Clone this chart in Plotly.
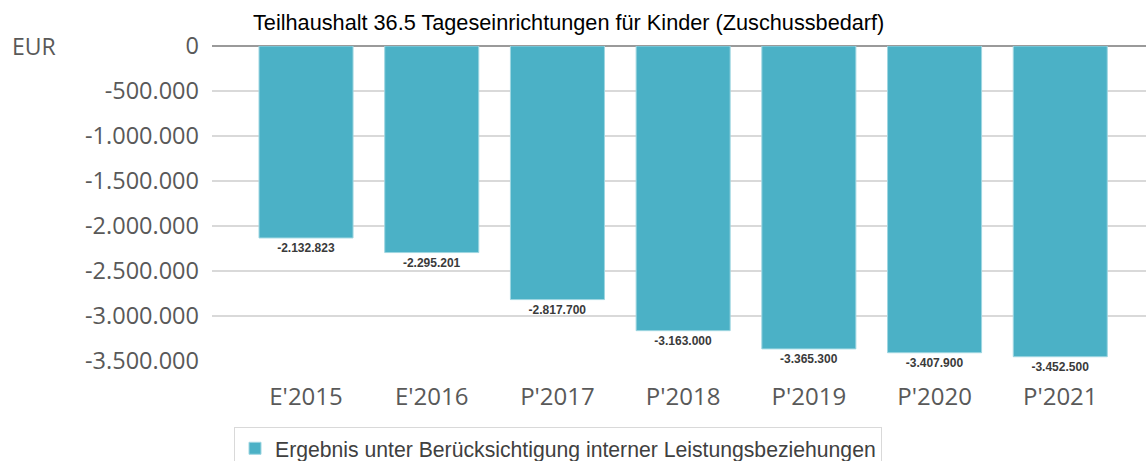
import plotly.graph_objects as go

categories = ["E'2015", "E'2016", "P'2017", "P'2018", "P'2019", "P'2020", "P'2021"]
values = [-2132823, -2295201, -2817700, -3163000, -3365300, -3407900, -3452500]
series_name = "Ergebnis unter Berücksichtigung interner Leistungsbeziehungen"
title_text = "Teilhaushalt 36.5 Tageseinrichtungen für Kinder (Zuschussbedarf)"
y_tickvals = [0, -500000, -1000000, -1500000, -2000000, -2500000, -3000000, -3500000]
y_ticktext = ["0", "-500.000", "-1.000.000", "-1.500.000", "-2.000.000", "-2.500.000", "-3.000.000", "-3.500.000"]
unit_label = "EUR"


def fmt(v):
    s = f"{abs(v):,}".replace(",", ".")
    return ("-" if v < 0 else "") + s


labels = [fmt(v) for v in values]

W, H = 1146, 461

fig = go.Figure()
fig.add_trace(go.Bar(
    x=categories,
    y=values,
    name=series_name,
    marker=dict(color="#4BB1C6", line=dict(color="#9ED6E1", width=1)),
    text=labels,
    textposition="outside",
    textfont=dict(family="Liberation Sans, Arial", size=12, color="#3a3a3a", weight="bold"),
    cliponaxis=False,
    showlegend=True,
))

fig.update_layout(
    width=W,
    height=H,
    margin=dict(l=212, r=0, t=46, b=100),
    paper_bgcolor="white",
    plot_bgcolor="white",
    bargap=0.252,
    showlegend=True,
    font=dict(family="Open Sans", color="#595959"),
    title=dict(
        text=title_text,
        x=253 / W, xanchor="left",
        y=1 - 22 / H, yanchor="middle",
        font=dict(family="Liberation Sans, Arial", size=21.7, color="#000000"),
    ),
    xaxis=dict(
        range=[-0.748, 6.682],
        showgrid=False,
        showline=False,
        zeroline=False,
        tickfont=dict(family="Open Sans", size=24, color="#595959"),
        ticklabelstandoff=19,
    ),
    yaxis=dict(
        range=[-3500000, 0],
        tickvals=y_tickvals,
        ticktext=y_ticktext,
        showgrid=True,
        gridcolor="#D9D9D9",
        gridwidth=1.5,
        zeroline=True,
        zerolinecolor="#9A9A9A",
        zerolinewidth=1.5,
        showline=False,
        tickfont=dict(family="Open Sans", size=23.5, color="#595959"),
        ticklabelstandoff=12,
    ),
    legend=dict(
        orientation="h",
        xref="container", yref="container",
        x=234 / W, xanchor="left",
        y=1 - 427 / H, yanchor="top",
        bordercolor="#D9D9D9",
        borderwidth=1,
        font=dict(family="Liberation Sans, Arial", size=21.2, color="#404040"),
        itemwidth=30,
    ),
    annotations=[dict(
        text=unit_label,
        xref="paper", yref="paper",
        x=-202 / 934, y=1.0,
        xanchor="left", yanchor="middle",
        showarrow=False,
        font=dict(family="Open Sans", size=23, color="#595959"),
    )],
)

fig.write_html("out.html", config={"displayModeBar": False},
               post_script="document.body.style.margin='0px';")
